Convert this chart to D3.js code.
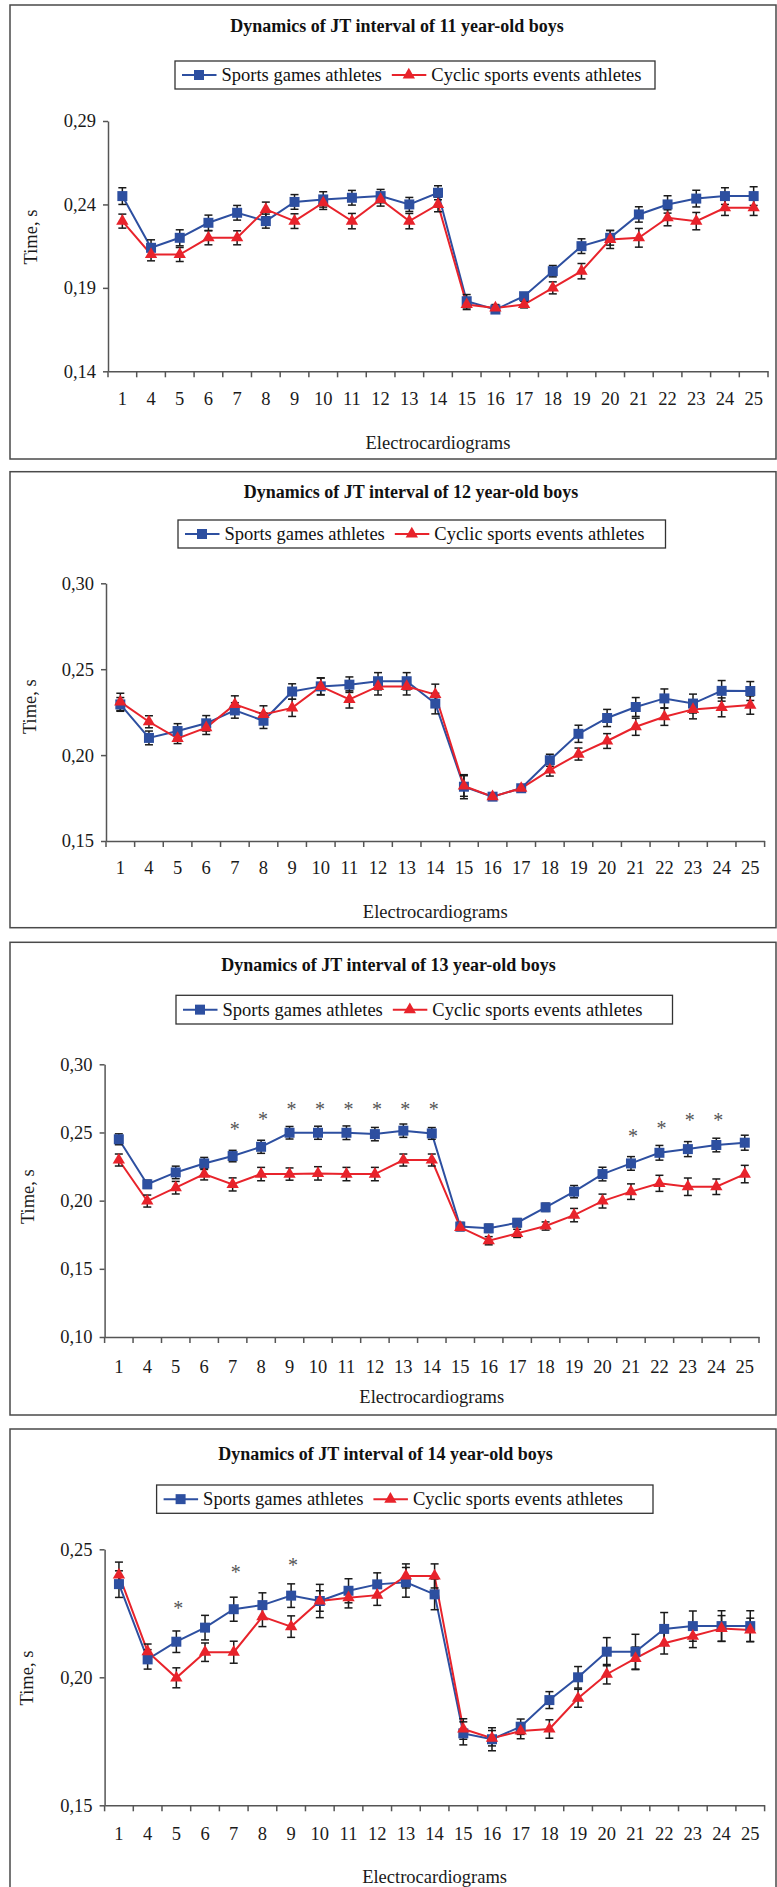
<!DOCTYPE html>
<html>
<head>
<meta charset="utf-8">
<script src="https://cdn.jsdelivr.net/npm/d3@7"></script>
<style>
  body { margin: 0; background: #fff; }
  svg { display: block; }
  svg text { font-family: "Liberation Serif", "Times New Roman", serif !important; }
</style>
</head>
<body>
<script>
// electrocardiogram numbers on the x axis
const ecgLabels = ['1', '4', '5', '6', '7', '8', '9', '10', '11', '12', '13', '14',
  '15', '16', '17', '18', '19', '20', '21', '22', '23', '24', '25'];

const seriesNames = ['Sports games athletes', 'Cyclic sports events athletes'];

// 11 year-old boys
const games11 = [0.245, 0.214, 0.220, 0.229, 0.235, 0.230, 0.2415, 0.243, 0.244, 0.245, 0.240, 0.247,
  0.182, 0.177, 0.185, 0.200, 0.215, 0.220, 0.234, 0.240, 0.2435, 0.245, 0.245];
const cyclic11 = [0.230, 0.210, 0.210, 0.220, 0.220, 0.237, 0.230, 0.241, 0.230, 0.243, 0.230, 0.240,
  0.180, 0.178, 0.180, 0.190, 0.200, 0.219, 0.220, 0.232, 0.230, 0.238, 0.238];
const gamesErr11 = [0.005, 0.0048, 0.0048, 0.0046, 0.0044, 0.0042, 0.0044, 0.0046, 0.0044, 0.004, 0.0042, 0.0042,
  0.004, 0.002, 0.002, 0.0034, 0.0044, 0.0044, 0.0046, 0.0052, 0.005, 0.005, 0.0056];
const cyclicErr11 = [0.0042, 0.0038, 0.0042, 0.0042, 0.0042, 0.0044, 0.0044, 0.004, 0.0046, 0.004, 0.0046, 0.0044,
  0.003, 0.002, 0.002, 0.0036, 0.0046, 0.0054, 0.0056, 0.0048, 0.0052, 0.0046, 0.0046];
const ticks11 = [0.14, 0.19, 0.24, 0.29];

// 12 year-old boys
const games12 = [0.2295, 0.210, 0.214, 0.2185, 0.226, 0.220, 0.237, 0.240, 0.241, 0.243, 0.243, 0.230,
  0.1816, 0.1758, 0.1807, 0.197, 0.2124, 0.2216, 0.228, 0.233, 0.230, 0.2374, 0.2373];
const cyclic12 = [0.231, 0.2194, 0.2097, 0.216, 0.2295, 0.2237, 0.2275, 0.240, 0.2324, 0.240, 0.240, 0.2353,
  0.182, 0.1758, 0.1807, 0.1913, 0.2006, 0.2082, 0.2165, 0.2223, 0.2266, 0.2278, 0.2291];
const gamesErr12 = [0.004, 0.004, 0.0043, 0.0045, 0.0045, 0.0045, 0.0045, 0.0048, 0.0045, 0.005, 0.005, 0.006,
  0.007, 0.002, 0.002, 0.0035, 0.005, 0.005, 0.0055, 0.0055, 0.0055, 0.006, 0.0055];
const cyclicErr12 = [0.005, 0.0035, 0.003, 0.004, 0.005, 0.005, 0.005, 0.005, 0.005, 0.005, 0.005, 0.006,
  0.006, 0.002, 0.002, 0.0035, 0.0035, 0.0043, 0.005, 0.005, 0.0055, 0.0055, 0.0053];
const ticks12 = [0.15, 0.20, 0.25, 0.30];

// 13 year-old boys
const games13 = [0.245, 0.212, 0.2207, 0.2273, 0.2327, 0.2395, 0.2498, 0.2498, 0.2498, 0.2488, 0.2513, 0.2493,
  0.181, 0.1797, 0.1838, 0.1951, 0.2066, 0.2195, 0.2273, 0.2351, 0.2378, 0.2408, 0.2425];
const cyclic13 = [0.2298, 0.1997, 0.2095, 0.2195, 0.2119, 0.2195, 0.2195, 0.220, 0.2195, 0.2195, 0.2298, 0.2298,
  0.1804, 0.1706, 0.176, 0.1814, 0.1894, 0.1997, 0.2066, 0.2127, 0.2102, 0.2102, 0.2195];
const gamesErr13 = [0.004, 0.003, 0.0046, 0.0044, 0.0042, 0.0048, 0.0046, 0.0048, 0.005, 0.0049, 0.0049, 0.0043,
  0.003, 0.003, 0.003, 0.003, 0.0045, 0.005, 0.005, 0.0054, 0.0055, 0.005, 0.0055];
const cyclicErr13 = [0.0044, 0.0044, 0.0046, 0.0043, 0.0048, 0.0049, 0.0045, 0.0049, 0.0049, 0.0049, 0.0044, 0.0044,
  0.002, 0.003, 0.003, 0.003, 0.0049, 0.0051, 0.0057, 0.0059, 0.0064, 0.0057, 0.0064];
const ticks13 = [0.10, 0.15, 0.20, 0.25, 0.30];
const stars13 = ['7', '8', '9', '10', '11', '12', '13', '14', '21', '22', '23', '24'];
const starLevels13 = [0.2542, 0.2611, 0.2688, 0.2688, 0.2688, 0.2688, 0.2688, 0.2688, 0.2486, 0.2547, 0.2608, 0.2608];

// 14 year-old boys
const games14 = [0.2364, 0.207, 0.2139, 0.2194, 0.2266, 0.2282, 0.2319, 0.2298, 0.2338, 0.2363, 0.2371, 0.2324,
  0.1781, 0.1758, 0.1807, 0.1911, 0.200, 0.210, 0.210, 0.2189, 0.220, 0.220, 0.220];
const cyclic14 = [0.240, 0.210, 0.1998, 0.2098, 0.2098, 0.2237, 0.2198, 0.2298, 0.2311, 0.2321, 0.2396, 0.2396,
  0.1798, 0.1762, 0.179, 0.1798, 0.1918, 0.2012, 0.2074, 0.2133, 0.2161, 0.2191, 0.2185];
const gamesErr14 = [0.0052, 0.0038, 0.0042, 0.0048, 0.0047, 0.0048, 0.0046, 0.0065, 0.0047, 0.0045, 0.0058, 0.006,
  0.0045, 0.0045, 0.003, 0.0033, 0.0042, 0.0055, 0.0068, 0.0064, 0.0059, 0.006, 0.006];
const cyclicErr14 = [0.005, 0.003, 0.0039, 0.0036, 0.0043, 0.0039, 0.0042, 0.004, 0.004, 0.004, 0.0047, 0.0047,
  0.004, 0.003, 0.003, 0.0036, 0.0035, 0.0038, 0.0044, 0.0042, 0.0045, 0.005, 0.0046];
const ticks14 = [0.15, 0.20, 0.25];
const stars14 = ['5', '7', '9'];
const starLevels14 = [0.2279, 0.2419, 0.2445];

const blue = '#2d4fa0';
const red = '#e8232b';
const fontSize = 18.5;

const panels = [
  { title: 'Dynamics of JT interval of 11 year-old boys', games: games11, cyclic: cyclic11,
    gamesErr: gamesErr11, cyclicErr: cyclicErr11, ticks: ticks11, stars: [], starLevels: [],
    frame: [10, 5, 776, 459], titleX: 397, titleY: 26, legend: [175, 61, 655, 89],
    plot: { x0: 108, x1: 768, y0: 121, y1: 371.3 }, labelY: 399, xTitleY: 443, yTitle: [31, 237] },
  { title: 'Dynamics of JT interval of 12 year-old boys', games: games12, cyclic: cyclic12,
    gamesErr: gamesErr12, cyclicErr: cyclicErr12, ticks: ticks12, stars: [], starLevels: [],
    frame: [10, 471.7, 776, 927.7], titleX: 411, titleY: 491.7, legend: [178, 520, 665.5, 548],
    plot: { x0: 106, x1: 764.6, y0: 583.3, y1: 841 }, labelY: 868, xTitleY: 912, yTitle: [30, 706.7] },
  { title: 'Dynamics of JT interval of 13 year-old boys', games: games13, cyclic: cyclic13,
    gamesErr: gamesErr13, cyclicErr: cyclicErr13, ticks: ticks13, stars: stars13, starLevels: starLevels13,
    frame: [10, 942.3, 776, 1415], titleX: 388.5, titleY: 965, legend: [176, 995.3, 672.5, 1024],
    plot: { x0: 104.6, x1: 759, y0: 1064.3, y1: 1337 }, labelY: 1366.7, xTitleY: 1396.7, yTitle: [28, 1196.7] },
  { title: 'Dynamics of JT interval of 14 year-old boys', games: games14, cyclic: cyclic14,
    gamesErr: gamesErr14, cyclicErr: cyclicErr14, ticks: ticks14, stars: stars14, starLevels: starLevels14,
    frame: [10, 1429, 776, 1900], titleX: 385.5, titleY: 1454.3, legend: [156.6, 1485, 653, 1513.3],
    plot: { x0: 104.6, x1: 764.6, y0: 1549.3, y1: 1805.3 }, labelY: 1834, xTitleY: 1876.7, yTitle: [27, 1678] }
];

const svg = d3.select('body')
  .append('svg')
  .attr('width', 777)
  .attr('height', 1887);

const square = d3.symbol().type(d3.symbolSquare).size(100);
const triangle = d3.symbol().type(d3.symbolTriangle).size(66);

const drawPanel = (p) => {
  const g = svg.append('g');
  const [fx0, fy0, fx1, fy1] = p.frame;

  // frame
  g.append('rect')
    .attr('x', fx0).attr('y', fy0)
    .attr('width', fx1 - fx0).attr('height', fy1 - fy0)
    .attr('fill', 'none')
    .attr('stroke', '#4a4a4a')
    .attr('stroke-width', 1.5);

  // title
  g.append('text')
    .attr('x', p.titleX)
    .attr('y', p.titleY + 6)
    .attr('text-anchor', 'middle')
    .attr('font-size', 18)
    .attr('font-weight', 'bold')
    .attr('fill', '#111')
    .text(p.title);

  // legend
  const [lx0, ly0, lx1, ly1] = p.legend;
  const ly = (ly0 + ly1) / 2;
  g.append('rect')
    .attr('x', lx0).attr('y', ly0)
    .attr('width', lx1 - lx0).attr('height', ly1 - ly0)
    .attr('fill', '#fff')
    .attr('stroke', '#333')
    .attr('stroke-width', 1.3);

  let cursor = lx0 + 7;
  seriesNames.forEach((name, i) => {
    const col = i === 0 ? blue : red;
    g.append('line')
      .attr('x1', cursor).attr('x2', cursor + 34.5)
      .attr('y1', ly).attr('y2', ly)
      .attr('stroke', col).attr('stroke-width', 2);
    g.append('path')
      .attr('d', i === 0 ? square() : triangle())
      .attr('transform', `translate(${cursor + 17},${ly})`)
      .attr('fill', col);
    const t = g.append('text')
      .attr('x', cursor + 39.5)
      .attr('y', ly + 6)
      .attr('font-size', fontSize)
      .attr('fill', '#111')
      .text(name);
    cursor = cursor + 39.5 + t.node().getComputedTextLength() + 10;
  });

  // scales
  const x = d3.scaleBand()
    .domain(ecgLabels)
    .range([p.plot.x0, p.plot.x1]);
  const y = d3.scaleLinear()
    .domain([p.ticks[0], p.ticks[p.ticks.length - 1]])
    .range([p.plot.y1, p.plot.y0]);
  const cx = (d) => x(d) + x.bandwidth() / 2;

  // y axis
  const yAxis = g.append('g')
    .attr('transform', `translate(${p.plot.x0},0)`)
    .call(d3.axisLeft(y)
      .tickValues(p.ticks)
      .tickSize(5)
      .tickSizeOuter(0)
      .tickPadding(7)
      .tickFormat(d => d3.format('.2f')(d).replace('.', ',')))
    .attr('font-size', fontSize)
    .attr('font-family', null);
  yAxis.selectAll('path, line').attr('stroke', '#555').attr('stroke-width', 1.5);
  yAxis.selectAll('text').attr('fill', '#1a1a1a');

  // x axis
  const xAxis = g.append('g')
    .attr('transform', `translate(0,${p.plot.y1})`)
    .call(d3.axisBottom(x)
      .tickSize(0)
      .tickSizeOuter(0)
      .tickPadding(p.labelY - p.plot.y1 - 7.1))
    .attr('font-size', fontSize)
    .attr('font-family', null);
  xAxis.select('.domain').attr('stroke', '#555').attr('stroke-width', 1.5);
  xAxis.selectAll('text').attr('fill', '#1a1a1a');

  // category boundary ticks
  const bounds = ecgLabels.map(d => x(d)).concat([x.range()[1]]);
  g.selectAll(null)
    .data(bounds)
    .join('line')
    .attr('x1', d => d).attr('x2', d => d)
    .attr('y1', p.plot.y1).attr('y2', p.plot.y1 + 6)
    .attr('stroke', '#555')
    .attr('stroke-width', 1.5);

  // axis titles
  g.append('text')
    .attr('x', (p.plot.x0 + p.plot.x1) / 2)
    .attr('y', p.xTitleY + 6)
    .attr('text-anchor', 'middle')
    .attr('font-size', fontSize)
    .attr('fill', '#1a1a1a')
    .text('Electrocardiograms');

  g.append('text')
    .attr('transform', `translate(${p.yTitle[0] + 6},${p.yTitle[1]}) rotate(-90)`)
    .attr('text-anchor', 'middle')
    .attr('font-size', fontSize)
    .attr('fill', '#1a1a1a')
    .text('Time, s');

  // series lines
  const series = [
    { vals: p.games, errs: p.gamesErr, col: blue, sym: square },
    { vals: p.cyclic, errs: p.cyclicErr, col: red, sym: triangle }
  ];
  const line = d3.line()
    .x((d, i) => cx(ecgLabels[i]))
    .y(d => y(d));

  series.forEach(s => {
    g.append('path')
      .datum(s.vals)
      .attr('d', line)
      .attr('fill', 'none')
      .attr('stroke', s.col)
      .attr('stroke-width', 2);
  });

  // error bars
  series.forEach(s => {
    const eb = g.append('g')
      .attr('stroke', '#1a1a1a')
      .attr('stroke-width', 1.5);
    s.vals.forEach((v, i) => {
      const xc = cx(ecgLabels[i]);
      const top = y(v + s.errs[i]);
      const bot = y(v - s.errs[i]);
      eb.append('line').attr('x1', xc).attr('x2', xc).attr('y1', top).attr('y2', bot);
      eb.append('line').attr('x1', xc - 4).attr('x2', xc + 4).attr('y1', top).attr('y2', top);
      eb.append('line').attr('x1', xc - 4).attr('x2', xc + 4).attr('y1', bot).attr('y2', bot);
    });
  });

  // markers
  series.forEach(s => {
    g.selectAll(null)
      .data(s.vals)
      .join('path')
      .attr('d', s.sym())
      .attr('transform', (d, i) => `translate(${cx(ecgLabels[i])},${y(d)})`)
      .attr('fill', s.col);
  });

  // significance asterisks
  g.selectAll(null)
    .data(p.stars)
    .join('text')
    .attr('x', d => cx(d) + 2)
    .attr('y', (d, i) => y(p.starLevels[i]) + 9)
    .attr('text-anchor', 'middle')
    .attr('font-size', 20)
    .attr('fill', '#555')
    .text('*');
};

panels.forEach(drawPanel);
</script>
</body>
</html>
